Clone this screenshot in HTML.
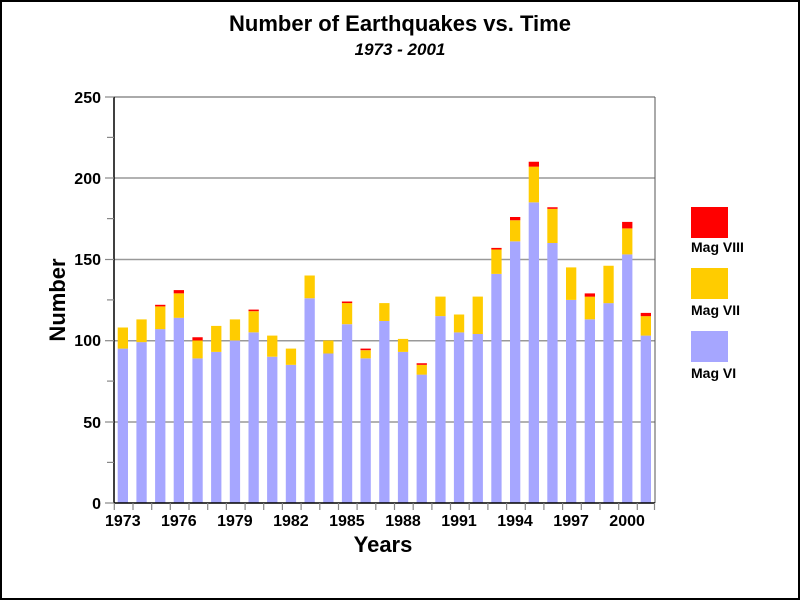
<!DOCTYPE html><html><head><style>body{margin:0;background:#fff}svg{display:block}text{font-family:"Liberation Sans",Arial,sans-serif;font-weight:bold}</style></head><body>
<svg width="800" height="600" xmlns="http://www.w3.org/2000/svg">
<rect x="1" y="1" width="798" height="598" fill="#fff" stroke="#000" stroke-width="2"/>
<text x="400" y="31" text-anchor="middle" font-size="22">Number of Earthquakes vs. Time</text>
<text x="400" y="55" text-anchor="middle" font-size="17" font-style="italic">1973 - 2001</text>
<g stroke="#999" stroke-width="1.5"><line x1="114" y1="178" x2="655" y2="178"/><line x1="114" y1="259.5" x2="655" y2="259.5"/><line x1="114" y1="340.7" x2="655" y2="340.7"/><line x1="114" y1="422" x2="655" y2="422"/></g>
<g fill="#a6a6ff">
<rect x="117.7" y="348.6" width="10.3" height="154.4"/>
<rect x="136.4" y="342.1" width="10.3" height="160.9"/>
<rect x="155.1" y="329.1" width="10.3" height="173.9"/>
<rect x="173.7" y="317.75" width="10.3" height="185.25"/>
<rect x="192.4" y="358.4" width="10.3" height="144.6"/>
<rect x="211.1" y="351.9" width="10.3" height="151.1"/>
<rect x="229.8" y="340.5" width="10.3" height="162.5"/>
<rect x="248.5" y="332.4" width="10.3" height="170.6"/>
<rect x="267.1" y="356.75" width="10.3" height="146.25"/>
<rect x="285.8" y="364.9" width="10.3" height="138.1"/>
<rect x="304.5" y="298.25" width="10.3" height="204.75"/>
<rect x="323.2" y="353.5" width="10.3" height="149.5"/>
<rect x="341.9" y="324.25" width="10.3" height="178.75"/>
<rect x="360.5" y="358.4" width="10.3" height="144.6"/>
<rect x="379.2" y="321" width="10.3" height="182"/>
<rect x="397.9" y="351.9" width="10.3" height="151.1"/>
<rect x="416.6" y="374.6" width="10.3" height="128.4"/>
<rect x="435.3" y="316.1" width="10.3" height="186.9"/>
<rect x="453.9" y="332.4" width="10.3" height="170.6"/>
<rect x="472.6" y="334" width="10.3" height="169"/>
<rect x="491.3" y="273.9" width="10.3" height="229.1"/>
<rect x="510" y="241.4" width="10.3" height="261.6"/>
<rect x="528.7" y="202.4" width="10.3" height="300.6"/>
<rect x="547.3" y="243" width="10.3" height="260"/>
<rect x="566" y="299.9" width="10.3" height="203.1"/>
<rect x="584.7" y="319.4" width="10.3" height="183.6"/>
<rect x="603.4" y="303.1" width="10.3" height="199.9"/>
<rect x="622.1" y="254.4" width="10.3" height="248.6"/>
<rect x="640.7" y="335.6" width="10.3" height="167.4"/>
</g>
<g fill="#ffcc00">
<rect x="117.7" y="327.5" width="10.3" height="21.1"/>
<rect x="136.4" y="319.4" width="10.3" height="22.75"/>
<rect x="155.1" y="306.4" width="10.3" height="22.75"/>
<rect x="173.7" y="293.4" width="10.3" height="24.4"/>
<rect x="192.4" y="340.5" width="10.3" height="17.9"/>
<rect x="211.1" y="325.9" width="10.3" height="26"/>
<rect x="229.8" y="319.4" width="10.3" height="21.1"/>
<rect x="248.5" y="311.25" width="10.3" height="21.1"/>
<rect x="267.1" y="335.6" width="10.3" height="21.1"/>
<rect x="285.8" y="348.6" width="10.3" height="16.25"/>
<rect x="304.5" y="275.5" width="10.3" height="22.75"/>
<rect x="323.2" y="340.5" width="10.3" height="13"/>
<rect x="341.9" y="303.1" width="10.3" height="21.1"/>
<rect x="360.5" y="350.25" width="10.3" height="8.1"/>
<rect x="379.2" y="303.1" width="10.3" height="17.9"/>
<rect x="397.9" y="338.9" width="10.3" height="13"/>
<rect x="416.6" y="364.9" width="10.3" height="9.75"/>
<rect x="435.3" y="296.6" width="10.3" height="19.5"/>
<rect x="453.9" y="314.5" width="10.3" height="17.9"/>
<rect x="472.6" y="296.6" width="10.3" height="37.4"/>
<rect x="491.3" y="249.5" width="10.3" height="24.4"/>
<rect x="510" y="220.25" width="10.3" height="21.1"/>
<rect x="528.7" y="166.6" width="10.3" height="35.75"/>
<rect x="547.3" y="208.9" width="10.3" height="34.1"/>
<rect x="566" y="267.4" width="10.3" height="32.5"/>
<rect x="584.7" y="296.6" width="10.3" height="22.75"/>
<rect x="603.4" y="265.75" width="10.3" height="37.4"/>
<rect x="622.1" y="228.4" width="10.3" height="26"/>
<rect x="640.7" y="316.1" width="10.3" height="19.5"/>
</g>
<g fill="#ff0000">
<rect x="155.1" y="304.8" width="10.3" height="1.6"/>
<rect x="173.7" y="290.1" width="10.3" height="3.25"/>
<rect x="192.4" y="337.25" width="10.3" height="3.25"/>
<rect x="248.5" y="309.6" width="10.3" height="1.6"/>
<rect x="341.9" y="301.5" width="10.3" height="1.6"/>
<rect x="360.5" y="348.6" width="10.3" height="1.6"/>
<rect x="416.6" y="363.25" width="10.3" height="1.6"/>
<rect x="491.3" y="247.9" width="10.3" height="1.6"/>
<rect x="510" y="217" width="10.3" height="3.25"/>
<rect x="528.7" y="161.75" width="10.3" height="4.9"/>
<rect x="547.3" y="207.25" width="10.3" height="1.6"/>
<rect x="584.7" y="293.4" width="10.3" height="3.25"/>
<rect x="622.1" y="221.9" width="10.3" height="6.5"/>
<rect x="640.7" y="312.9" width="10.3" height="3.25"/>
</g>
<line x1="114" y1="97" x2="655" y2="97" stroke="#555"/>
<line x1="655" y1="97" x2="655" y2="503" stroke="#555"/>
<line x1="114" y1="97" x2="114" y2="503" stroke="#000" stroke-width="1.5"/>
<line x1="114" y1="503" x2="655" y2="503" stroke="#000" stroke-width="1.5"/>
<g font-size="16" text-anchor="end"><text x="101" y="103">250</text><text x="101" y="184">200</text><text x="101" y="265">150</text><text x="101" y="346">100</text><text x="101" y="428">50</text><text x="101" y="509">0</text></g>
<g stroke="#888" stroke-width="1.2">
<line x1="105" y1="97" x2="114" y2="97"/><line x1="105" y1="178" x2="114" y2="178"/><line x1="105" y1="259.5" x2="114" y2="259.5"/><line x1="105" y1="340.7" x2="114" y2="340.7"/><line x1="105" y1="422" x2="114" y2="422"/><line x1="105" y1="503" x2="114" y2="503"/>
<line x1="107" y1="462.4" x2="114" y2="462.4"/><line x1="107" y1="381.1" x2="114" y2="381.1"/><line x1="107" y1="299.9" x2="114" y2="299.9"/><line x1="107" y1="218.6" x2="114" y2="218.6"/><line x1="107" y1="137.4" x2="114" y2="137.4"/>
<path d="M114.3 503v7M133 503v7M151.7 503v7M170.3 503v7M189 503v7M207.7 503v7M226.4 503v7M245.1 503v7M263.7 503v7M282.4 503v7M301.1 503v7M319.8 503v7M338.5 503v7M357.1 503v7M375.8 503v7M394.5 503v7M413.2 503v7M431.9 503v7M450.5 503v7M469.2 503v7M487.9 503v7M506.6 503v7M525.3 503v7M543.9 503v7M562.6 503v7M581.3 503v7M600 503v7M618.7 503v7M637.3 503v7M654.5 503v7"/>
</g>
<g font-size="16" text-anchor="middle">
<text x="122.8" y="526">1973</text><text x="178.8" y="526">1976</text><text x="234.9" y="526">1979</text><text x="290.9" y="526">1982</text><text x="346.9" y="526">1985</text><text x="403" y="526">1988</text><text x="459" y="526">1991</text><text x="515" y="526">1994</text><text x="571.1" y="526">1997</text><text x="627.1" y="526">2000</text>
</g>
<text x="383" y="552" text-anchor="middle" font-size="22">Years</text>
<text transform="translate(65,300) rotate(-90)" text-anchor="middle" font-size="22">Number</text>
<rect x="691" y="207" width="37" height="31" fill="#ff0000"/>
<rect x="691" y="268" width="37" height="31" fill="#ffcc00"/>
<rect x="691" y="331" width="37" height="31" fill="#a6a6ff"/>
<g font-size="14"><text x="691" y="252">Mag VIII</text><text x="691" y="315">Mag VII</text><text x="691" y="378">Mag VI</text></g>
</svg></body></html>
